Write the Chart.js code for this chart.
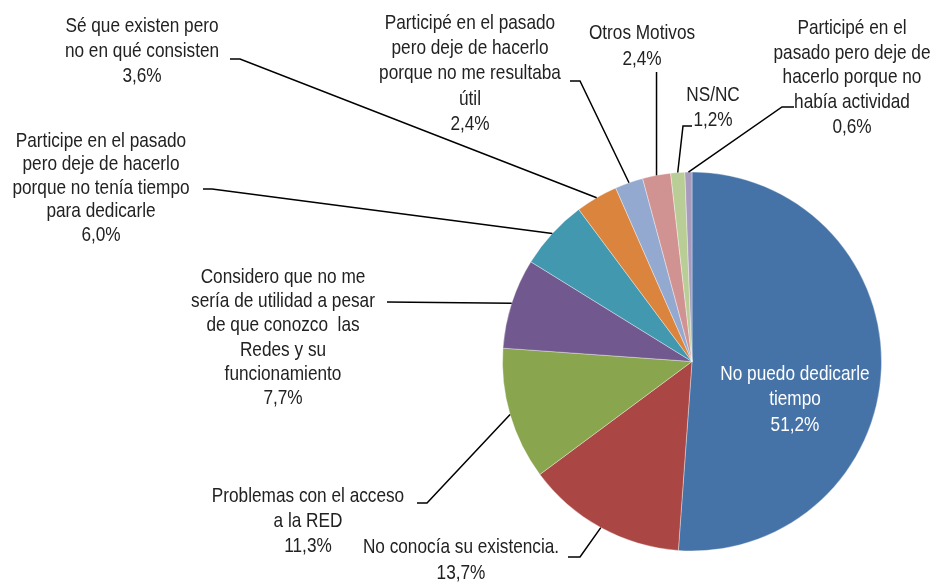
<!DOCTYPE html>
<html><head><meta charset="utf-8">
<script src="https://cdn.jsdelivr.net/npm/chart.js@4"></script>
<style>html,body{margin:0;padding:0;background:#fff}#wrap{width:935px;height:583px;position:relative}</style>
</head><body><div id="wrap"><canvas id="c" width="935" height="583"></canvas></div>
<script>
// ---- data ----
const categories = [
  ["No puedo dedicarle", "tiempo"],
  ["No conocía su existencia."],
  ["Problemas con el acceso", "a la RED"],
  ["Considero que no me", "sería de utilidad a pesar", "de que conozco  las", "Redes y su", "funcionamiento"],
  ["Participe en el pasado", "pero deje de hacerlo", "porque no tenía tiempo", "para dedicarle"],
  ["Sé que existen pero", "no en qué consisten"],
  ["Participé en el pasado", "pero deje de hacerlo", "porque no me resultaba", "útil"],
  ["Otros Motivos"],
  ["NS/NC"],
  ["Participé en el", "pasado pero deje de", "hacerlo porque no", "había actividad"]
];
const values = [51.2, 13.7, 11.3, 7.7, 6.0, 3.6, 2.4, 2.4, 1.2, 0.6];
const percentLabels = values.map(v => v.toFixed(1).replace('.', ',') + '%');

// ---- styles / layout ----
const colors = ['#4572A7', '#AA4643', '#89A54E', '#71588F', '#4198AF', '#DB843D', '#93A9CF', '#D19392', '#B9CD96', '#A99BBD'];
const FONT = '21px "Liberation Sans", Arial, sans-serif';
const NARROW = 0.82; // emulate a narrow face
const labelLayout = [
  { cx: 795, y: 374, lh: 25.5, color: '#ffffff', leader: null },
  { cx: 461, y: 547, lh: 26, leader: [[580, 557], [568, 557]] },
  { cx: 308, y: 496, lh: 25, leader: [[427, 503], [417, 503]] },
  { cx: 283, y: 277, lh: 24.3, leader: [[387, 302]] },
  { cx: 101, y: 141, lh: 23.5, leader: [[212, 189], [203, 189]] },
  { cx: 142, y: 26, lh: 25, leader: [[240, 59], [230, 59]] },
  { cx: 470, y: 23, lh: 25.3, leader: [[580, 81], [570, 81]] },
  { cx: 642, y: 33, lh: 26, leader: [[null, 72]] },
  { cx: 713, y: 95, lh: 25, leader: [[683, 126], [692, 126]] },
  { cx: 852, y: 28, lh: 24.8, leader: [[782, 107], [794, 107]] }
];

const labelPlugin = {
  id: 'outLabels',
  afterDatasetsDraw(chart) {
    const ctx = chart.ctx;
    const meta = chart.getDatasetMeta(0);
    ctx.save();
    meta.data.forEach((arc, i) => {
      const p = arc.getProps(['x', 'y', 'startAngle', 'endAngle', 'outerRadius'], true);
      const a = (p.startAngle + p.endAngle) / 2;
      const ax = p.x + Math.cos(a) * p.outerRadius;
      const ay = p.y + Math.sin(a) * p.outerRadius;
      const L = labelLayout[i];
      if (L.leader) {
        ctx.beginPath();
        ctx.strokeStyle = '#000';
        ctx.lineWidth = 1.5;
        ctx.moveTo(ax, ay);
        L.leader.forEach(pt => ctx.lineTo(pt[0] === null ? ax : pt[0], pt[1]));
        ctx.stroke();
      }
      const lines = categories[i].concat([percentLabels[i]]);
      ctx.font = FONT;
      ctx.fillStyle = L.color || '#222222';
      ctx.textAlign = 'center';
      ctx.textBaseline = 'middle';
      lines.forEach((t, k) => {
        ctx.save();
        ctx.translate(L.cx, L.y + k * L.lh);
        ctx.scale(NARROW, 1);
        ctx.fillText(t, 0, 0);
        ctx.restore();
      });
    });
    ctx.restore();
  }
};

new Chart(document.getElementById('c'), {
  type: 'pie',
  data: {
    labels: categories.map(c => c.join(' ')),
    datasets: [{
      data: values,
      backgroundColor: colors,
      borderColor: 'rgba(255,255,255,0.6)',
      borderWidth: 0.6,
      radius: 189.5
    }]
  },
  options: {
    responsive: false,
    animation: false,
    events: [],
    layout: { padding: { left: 449, right: 0, top: 140, bottom: 0 } },
    plugins: { legend: { display: false }, tooltip: { enabled: false } }
  },
  plugins: [labelPlugin]
});
</script>
</body></html>
